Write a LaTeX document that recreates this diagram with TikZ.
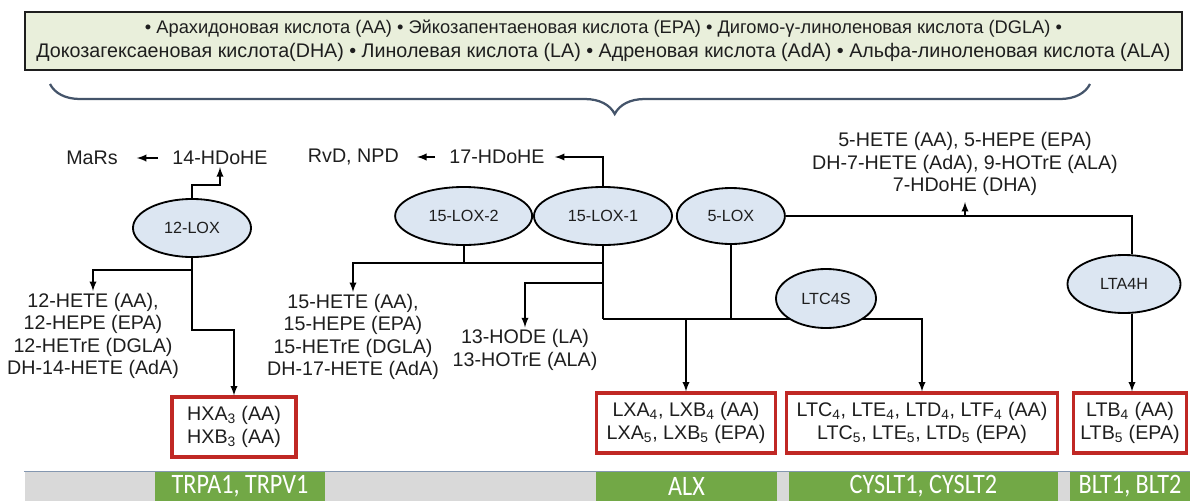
\documentclass[tikz,border=0pt]{standalone}
\usepackage{graphicx}
\usepackage{fontspec}
\setmainfont{Liberation Sans}
\newfontfamily\barfont{Carlito}
\usetikzlibrary{positioning,shapes.geometric,decorations.pathreplacing}
\definecolor{boxgreen}{RGB}{233,239,219}
\definecolor{loxblue}{RGB}{220,230,242}
\definecolor{prodred}{RGB}{192,40,36}
\definecolor{recgreen}{RGB}{114,168,70}
\definecolor{bargray}{RGB}{217,217,217}
\definecolor{barline}{RGB}{132,151,176}
\definecolor{braceblue}{RGB}{68,84,106}
\definecolor{ink}{RGB}{30,30,30}
\newcommand{\rcp}[1]{\scalebox{0.86}[1]{#1}}

\begin{document}
\begin{tikzpicture}[x=0.025cm,y=-0.025cm,line width=1.3pt,
				every node/.style={font=\fontsize{14}{15.9}\selectfont,text=ink,inner sep=1pt},
				enzyme/.style={ellipse,draw,fill=loxblue,inner sep=0pt,font=\fontsize{11.5}{13}\selectfont},
				product/.style={align=center},
				mediator/.style={draw=prodred,line width=2.2pt,fill=white,align=center,inner sep=0pt,minimum height=1.5cm},
				receptor/.style={fill=recgreen,text=white,minimum height=0.725cm,inner sep=0pt,font=\barfont\fontsize{20}{20}\selectfont}]
				\useasboundingbox (0,0) rectangle (1190,501);
				\node (ACIDS) [draw=ink,fill=boxgreen,minimum width=28.925cm,minimum height=1.45cm,inner sep=0pt,align=center,font=\fontsize{13}{17}\selectfont] at (603.5,41)
					{• Арахидоновая кислота (AA) • Эйкозапентаеновая кислота (EPA) • Дигомо-γ-линоленовая кислота (DGLA) •\\
					{\fontsize{14}{17}\selectfont Докозагексаеновая кислота(DHA) • Линолевая кислота (LA) • Адреновая кислота (AdA) • Альфа-линоленовая кислота (ALA)}};
				\draw[braceblue,line width=1.6pt,decorate,decoration={brace,mirror,amplitude=0.75cm,aspect=0.543}] (50,84) -- (1090,84);
				
				% 12-LOX
				\node (LOX12)   [enzyme,minimum width=2.95cm,minimum height=1.45cm] at (192,228) {12-LOX};
				\node (HDOHE14) at (220,158)                  {14-HDoHE};
				\node (MARS)    [left=1.25cm of HDOHE14]      {MaRs};
				\node (HETE12)  [product] at (93,336)         {12-HETE (AA),\\12-HEPE (EPA)\\12-HETrE (DGLA)\\DH-14-HETE (AdA)};
				\node (HXA)     [mediator,minimum width=3.1cm] at (234,427) {HXA\textsubscript{3} (AA)\\HXB\textsubscript{3} (AA)};
				
				% 15-LOX and 5-LOX
				\node (LOX151)  [enzyme,minimum width=3.45cm,minimum height=1.45cm] at (603,216) {15-LOX-1};
				\node (LOX152)  [enzyme,minimum width=3.425cm,minimum height=1.45cm,left=0pt of LOX151] {15-LOX-2};
				\node (LOX5)    [enzyme,minimum width=2.7cm,minimum height=1.4cm,right=0.075cm of LOX151] {5-LOX};
				\node (HDOHE17) at (497,157)                  {17-HDoHE};
				\node (RVD)     [left=1.15cm of HDOHE17]      {RvD, NPD};
				\node (HETE15)  [product] at (353,337)        {15-HETE (AA),\\15-HEPE (EPA)\\15-HETrE (DGLA)\\DH-17-HETE (AdA)};
				\node (HODE13)  [product] at (525,350)        {13-HODE (LA)\\13-HOTrE (ALA)};
				\node (HETE5)   [product] at (965,164)        {5-HETE (AA), 5-HEPE (EPA)\\DH-7-HETE (AdA), 9-HOTrE (ALA)\\7-HDoHE (DHA)};
				\node (LTA4H)   [enzyme,minimum width=2.825cm,minimum height=1.45cm] at (1124,284) {LTA4H};
				\node (LXA)     [mediator,minimum width=4.475cm] at (686,423) {LXA\textsubscript{4}, LXB\textsubscript{4} (AA)\\LXA\textsubscript{5}, LXB\textsubscript{5} (EPA)};
				\node (CYS)     [mediator,minimum width=6.775cm] at (922,423) {LTC\textsubscript{4}, LTE\textsubscript{4}, LTD\textsubscript{4}, LTF\textsubscript{4} (AA)\\LTC\textsubscript{5}, LTE\textsubscript{5}, LTD\textsubscript{5} (EPA)};
				\node (LTB)     [mediator,minimum width=2.825cm] at (1130,423) {LTB\textsubscript{4} (AA)\\LTB\textsubscript{5} (EPA)};
				
				\coordinate (J12) at (192,270);
				\coordinate (J15) at (603,263);
				\coordinate (J13) at (603,283);
				\coordinate (JLT) at (603,319);
				
				\draw[-latex] ([xshift=-0.3cm]HDOHE14.west) -- ([xshift=0.42cm]MARS.east);
				\draw[-latex] (LOX12.north) -- ++(0,-13) -| (HDOHE14.south);
				\draw (LOX12.south) -- (J12);
				\draw[-latex] (J12) -| (HETE12.north);
				\draw[-latex] (J12) -- (192,330) -| (HXA.north);
				
				\draw[-latex] (LOX151.north) |- ([xshift=0.2cm]HDOHE17.east);
				\draw[-latex] ([xshift=-0.3cm]HDOHE17.west) -- ([xshift=0.4cm]RVD.east);
				\draw (LOX151.south) -- (JLT);
				\draw (LOX152.south) -- (LOX152.south |- J15);
				\draw[-latex] (J15) -| (HETE15.north);
				\draw[-latex] (J13) -| (HODE13.north);
				\draw (LOX5.south) -- (LOX5.south |- JLT);
				\draw[-latex] (JLT) -| (CYS.north);
				\draw[-latex] (LXA.north |- JLT) -- (LXA.north);
				\draw (LOX5.east) -| ([xshift=0.2cm]LTA4H.north);
				\draw[-latex] (HETE5.south |- LOX5.east) -- ++(0,-14);
				\draw[-latex] ([xshift=0.2cm]LTA4H.south) -- ([xshift=0.2cm]LTA4H.south |- LTB.north);
				\node (LTC4S)   [enzyme,minimum width=2.5cm,minimum height=1.475cm] at (826,298.5) {LTC4S};
				
				% receptors
				\node (BAR)  [fill=bargray,minimum width=29.125cm,minimum height=0.725cm,inner sep=0pt] at (607.5,486.5) {};
				\draw[barline,line width=0.8pt] (BAR.north west) -- (BAR.north east);
				\node (TRP)  [receptor,minimum width=4.25cm]  at (240,486.5)   {\rcp{TRPA1, TRPV1}};
				\node (ALX)  [receptor,minimum width=4.525cm] at (686.5,486.5) {\rcp{ALX}};
				\node (CYSR) [receptor,minimum width=6.725cm] at (923.5,486.5) {\rcp{CYSLT1, CYSLT2}};
				\node (BLT)  [receptor,minimum width=3cm]     at (1130,486.5)  {\rcp{BLT1, BLT2}};
			\end{tikzpicture}
\end{document}
